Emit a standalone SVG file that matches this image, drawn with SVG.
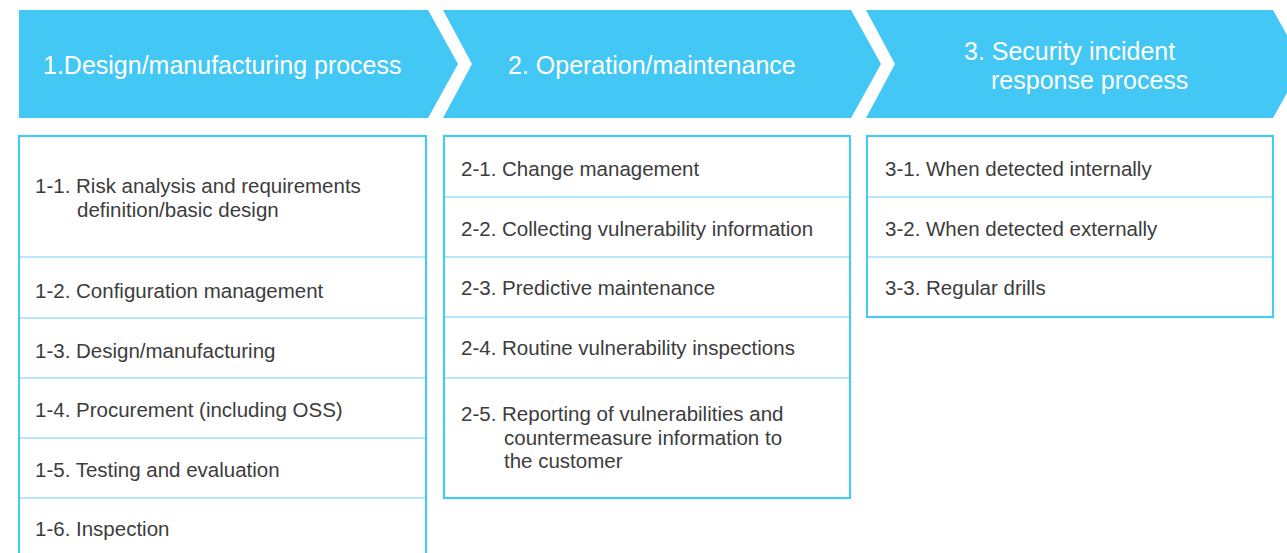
<svg xmlns="http://www.w3.org/2000/svg" width="1287" height="553" viewBox="0 0 1287 553">
<style>
.hdr{fill:#43c7f4}
.ht{font-family:"Liberation Sans",Arial,sans-serif;font-size:25px;fill:#ffffff}
.box{fill:#ffffff;stroke:#48c8f2;stroke-width:2.2}
.div{stroke:#6fd2f3;stroke-width:1.2}
.it{font-family:"Liberation Sans",Arial,sans-serif;font-size:20.5px;fill:#3c3c3c}
</style>
<rect width="1287" height="553" fill="#ffffff"/>
<g id="header1">
<polygon class="hdr" points="19,10 428,10 458,64 428,118 19,118"/>
<text class="ht" x="43" y="74">1.Design/manufacturing process</text>
</g>
<g id="header2">
<polygon class="hdr" points="443,10 851,10 881,64 851,118 443,118 472,64"/>
<text class="ht" x="508" y="74">2. Operation/maintenance</text>
</g>
<g id="header3">
<polygon class="hdr" points="866,10 1273,10 1303,64 1273,118 866,118 895,64"/>
<text class="ht" x="964" y="60">3. Security incident</text>
<text class="ht" x="991" y="89">response process</text>
</g>
<g id="column1">
<rect class="box" x="19" y="136" width="407" height="440"/>
<line class="div" x1="20" y1="257" x2="425" y2="257"/>
<line class="div" x1="20" y1="318" x2="425" y2="318"/>
<line class="div" x1="20" y1="378" x2="425" y2="378"/>
<line class="div" x1="20" y1="438" x2="425" y2="438"/>
<line class="div" x1="20" y1="498" x2="425" y2="498"/>
<text class="it" x="35" y="193">1-1. Risk analysis and requirements</text>
<text class="it" x="77" y="217">definition/basic design</text>
<text class="it" x="35" y="298">1-2. Configuration management</text>
<text class="it" x="35" y="358">1-3. Design/manufacturing</text>
<text class="it" x="35" y="417">1-4. Procurement (including OSS)</text>
<text class="it" x="35" y="477">1-5. Testing and evaluation</text>
<text class="it" x="35" y="536">1-6. Inspection</text>
</g>
<g id="column2">
<rect class="box" x="444" y="136" width="406" height="362"/>
<line class="div" x1="445" y1="197" x2="849" y2="197"/>
<line class="div" x1="445" y1="257" x2="849" y2="257"/>
<line class="div" x1="445" y1="317" x2="849" y2="317"/>
<line class="div" x1="445" y1="378" x2="849" y2="378"/>
<text class="it" x="461" y="176">2-1. Change management</text>
<text class="it" x="461" y="236">2-2. Collecting vulnerability information</text>
<text class="it" x="461" y="295">2-3. Predictive maintenance</text>
<text class="it" x="461" y="355">2-4. Routine vulnerability inspections</text>
<text class="it" x="461" y="421">2-5. Reporting of vulnerabilities and</text>
<text class="it" x="504" y="445">countermeasure information to</text>
<text class="it" x="504" y="468">the customer</text>
</g>
<g id="column3">
<rect class="box" x="867" y="136" width="406" height="181"/>
<line class="div" x1="868" y1="197" x2="1272" y2="197"/>
<line class="div" x1="868" y1="257" x2="1272" y2="257"/>
<text class="it" x="885" y="176">3-1. When detected internally</text>
<text class="it" x="885" y="236">3-2. When detected externally</text>
<text class="it" x="885" y="295">3-3. Regular drills</text>
</g>
<g id="connectors"/>
</svg>
